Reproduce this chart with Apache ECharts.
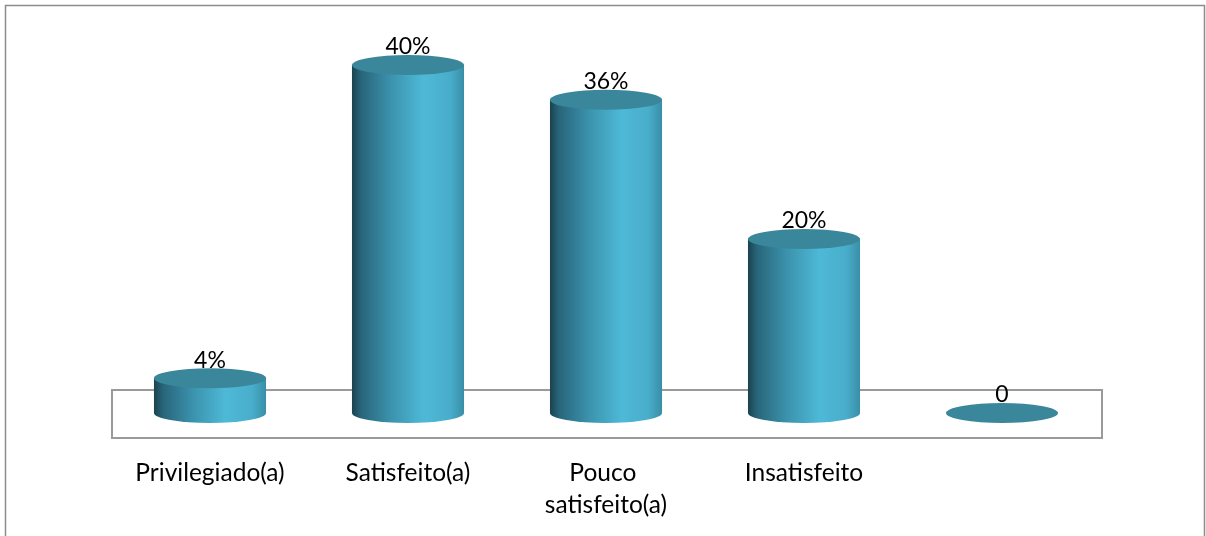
<!DOCTYPE html>
<html>
<head>
<meta charset="utf-8">
<script src="https://cdn.jsdelivr.net/npm/echarts@6/dist/echarts.min.js"></script>
<style>
  html, body { margin: 0; padding: 0; background: #fff; }
  #chart { width: 1206px; height: 536px; }
</style>
</head>
<body>
<div id="chart"></div>
<script>
// Satisfaction levels and their shares (percent)
const categories = ['Privilegiado(a)', 'Satisfeito(a)', 'Pouco satisfeito(a)', 'Insatisfeito', ''];
const values = [4, 40, 36, 20, 0];
const valueLabels = ['4%', '40%', '36%', '20%', '0'];

const FONT = 'Lato, "Open Sans", sans-serif';

const chart = echarts.init(document.getElementById('chart'), null, { renderer: 'canvas' });

// Side shading of each cylinder: dark left edge, highlight right of centre
const bodyFill = new echarts.graphic.LinearGradient(0, 0, 1, 0, [
  { offset: 0.00, color: '#1b424e' },
  { offset: 0.08, color: '#28657a' },
  { offset: 0.35, color: '#3b93ad' },
  { offset: 0.64, color: '#4eb9d7' },
  { offset: 0.88, color: '#48adca' },
  { offset: 1.00, color: '#3a8ea7' }
]);
const capFill = '#3a879c';

function ellipsePath(cx, cy, rx, ry) {
  return 'M' + (cx - rx) + ' ' + cy +
    ' A' + rx + ' ' + ry + ' 0 1 0 ' + (cx + rx) + ' ' + cy +
    ' A' + rx + ' ' + ry + ' 0 1 0 ' + (cx - rx) + ' ' + cy + ' Z';
}

function renderCylinder(params, api) {
  const idx = api.value(0);
  const val = api.value(1);
  const topPt = api.coord([idx, val]);
  const basePt = api.coord([idx, 0]);
  const band = api.size([1, 0])[0];
  const rx = band * 0.283;
  const ry = 10;
  const cx = topPt[0];
  const left = cx - rx, right = cx + rx;
  const top = topPt[1], bot = basePt[1];
  const children = [];
  if (bot - top > 0.5) {
    children.push({
      type: 'path',
      shape: {
        pathData: 'M' + left + ' ' + top + ' L' + left + ' ' + bot +
          ' A' + rx + ' ' + ry + ' 0 0 0 ' + right + ' ' + bot +
          ' L' + right + ' ' + top + ' Z'
      },
      style: { fill: bodyFill }
    });
  }
  children.push({
    type: 'path',
    shape: { pathData: ellipsePath(cx, top, rx, ry) },
    style: { fill: capFill }
  });
  children.push({
    type: 'text',
    x: cx,
    y: top - 18,
    style: {
      text: valueLabels[params.dataIndex],
      font: '23px ' + FONT,
      fill: '#000',
      align: 'center',
      verticalAlign: 'middle'
    }
  });
  return { type: 'group', children: children };
}

// Floor plate under the cylinders
function renderFloor(params, api) {
  const cs = params.coordSys;
  const base = api.coord([0, 0])[1];
  return {
    type: 'rect',
    shape: { x: cs.x + 1, y: base - 23, width: cs.width, height: 48 },
    style: { fill: 'none', stroke: '#9a9a9a', lineWidth: 2 }
  };
}

chart.setOption({
  animation: false,
  backgroundColor: '#fff',
  graphic: [{
    type: 'rect',
    shape: { x: 5.5, y: 5.5, width: 1199, height: 545 },
    style: { fill: 'none', stroke: '#8c8c8c', lineWidth: 1.5 },
    z: -10
  }],
  grid: { left: 111, right: 105, top: 65, bottom: 123 },
  xAxis: {
    type: 'category',
    data: categories,
    axisLine: { show: false },
    axisTick: { show: false },
    axisLabel: {
      interval: 0,
      margin: 44,
      fontSize: 24.5,
      fontFamily: FONT,
      color: '#000',
      lineHeight: 32,
      width: 180,
      overflow: 'break'
    }
  },
  yAxis: {
    type: 'value',
    min: 0,
    max: 40,
    show: false,
    splitLine: { show: false }
  },
  series: [
    {
      type: 'custom',
      renderItem: renderFloor,
      data: [[0]],
      z: 1,
      silent: true
    },
    {
      type: 'custom',
      renderItem: renderCylinder,
      data: values.map((v, i) => [i, v]),
      z: 2,
      clip: false
    }
  ]
});
</script>
</body>
</html>
